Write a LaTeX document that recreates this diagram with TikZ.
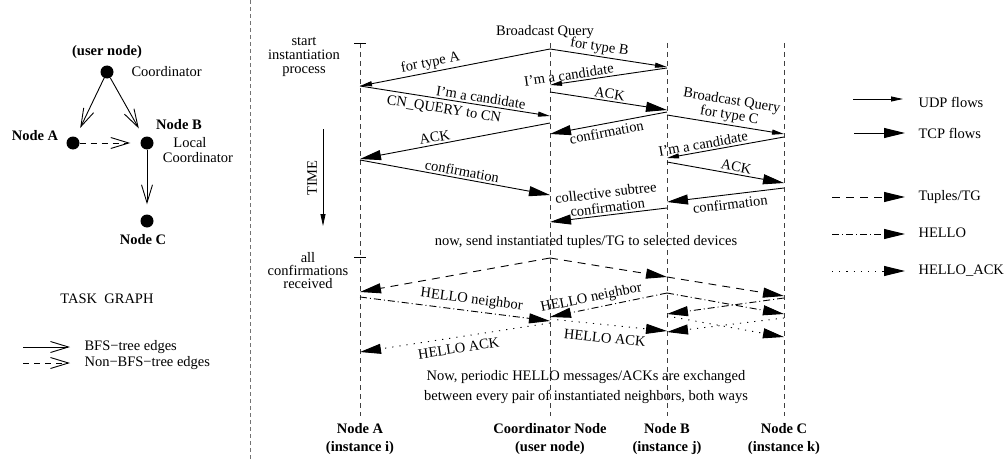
\documentclass[tikz,border=0pt]{standalone}
\usepackage{fontspec}
\setmainfont{Liberation Serif}
\usetikzlibrary{arrows.meta}
\begin{document}
\begin{tikzpicture}[x=1pt,y=-1pt,
  font=\fontsize{14.5}{15}\selectfont,
  life/.style={draw=black!75, line width=0.8pt, dash pattern=on 5pt off 4pt},
  sep/.style={draw=black!55, line width=0.8pt, dash pattern=on 4pt off 3pt},
  msg/.style={line width=0.9pt},
  udp/.style={msg, -{Triangle[length=12pt,width=5pt]}},
  tcp/.style={msg, -{Triangle[length=21pt,width=10pt]}},
  tuples/.style={tcp, dash pattern=on 8pt off 6pt},
  hello/.style={tcp, dash pattern=on 7pt off 3pt on 1pt off 3pt},
  helloack/.style={tcp, dash pattern=on 1.2pt off 6pt},
  lbla/.style={sloped, above, inner sep=2pt},
  lblb/.style={sloped, below, inner sep=4pt},
  dot/.style={circle, fill=black, minimum size=13pt, inner sep=0pt},
  bfs/.style={line width=0.9pt, -{Straight Barb[length=18pt,width=11pt]}},
  nonbfs/.style={bfs, dash pattern=on 6pt off 5pt},
  bold/.style={align=center, font=\fontsize{14.5}{18}\selectfont\bfseries},
]
\useasboundingbox (0,0) rectangle (1006,460);

% ---------- task graph ----------
\node[dot] (gco) at (107,72) {};
\node[dot] (ga)  at (73,143) {};
\node[dot] (gb)  at (147,143) {};
\node[dot] (gc)  at (147,221) {};
\node[bold] (tuser) at (107,52) {(user node)};
\node[anchor=west] (tcoord) at (128,72) {Coordinator};
\node[bold] (tna) at (35,136) {Node A};
\node[bold] (tnb) at (179,125) {Node B};
\node (tlocal) at (190,143) {Local};
\node (tlcoord) at (198,158) {Coordinator};
\node[bold] (tnc) at (143,240) {Node C};
\draw[bfs, shorten >=10pt] (gco) -- (ga);
\draw[bfs, shorten >=10pt] (gco) -- (gb);
\draw[bfs, shorten >=10pt] (gb) -- (gc);
\draw[nonbfs, shorten >=10pt] (ga) -- (gb);
\node (ttask) at (107,299) {TASK\ \ GRAPH};
\coordinate (lg1s) at (23,347); \coordinate (lg1e) at (70,347);
\coordinate (lg2s) at (23,363); \coordinate (lg2e) at (70,363);
\draw[bfs] (lg1s) -- (lg1e);
\draw[nonbfs] (lg2s) -- (lg2e);
\node[anchor=west] (tbfs) at (81,347) {BFS−tree edges};
\node[anchor=west] (tnbfs) at (81,363) {Non−BFS−tree edges};

% ---------- separator ----------
\coordinate (sept) at (250,0); \coordinate (sepb) at (250,460);
\draw[sep] (sept) -- (sepb);

% ---------- lifelines ----------
\coordinate (At) at (360,43);  \coordinate (Ab) at (360,416);
\coordinate (Ct) at (550,43);  \coordinate (Cb) at (550,416);
\coordinate (Bt) at (667,43);  \coordinate (Bb) at (667,416);
\coordinate (Kt) at (784,43);  \coordinate (Kb) at (784,416);
\draw[life] (At) -- (Ab);
\draw[life] (Ct) -- (Cb);
\draw[life] (Bt) -- (Bb);
\draw[life] (Kt) -- (Kb);
\coordinate (tk1l) at (354,43);  \coordinate (tk1r) at (366,43);
\coordinate (tk2l) at (354,257); \coordinate (tk2r) at (366,257);
\draw[line width=0.8pt] (tk1l) -- (tk1r);
\draw[line width=0.8pt] (tk2l) -- (tk2r);

\node[bold] (lA) at (360,439) {Node A\\(instance i)};
\node[bold] (lC) at (550,439) {Coordinator Node\\(user node)};
\node[bold] (lB) at (667,439) {Node B\\(instance j)};
\node[bold] (lK) at (784,439) {Node C\\(instance k)};

% ---------- left annotations ----------
\node[align=center, font=\fontsize{14.5}{14}\selectfont] (tstart) at (304,57) {start\\instantiation\\process};
\node[align=center, font=\fontsize{14.5}{13}\selectfont] (tall) at (308,271) {all\\confirmations\\received};
\node[rotate=90] (ttime) at (312,178) {TIME};
\coordinate (tms) at (323,129); \coordinate (tme) at (323,226);
\draw[udp, line width=0.8pt] (tms) -- (tme);

% ---------- instantiation phase ----------
\coordinate (co1) at (550,49);  \coordinate (a1) at (360,86);  \coordinate (b1) at (667,67);
\node (tbq) at (545,32) {Broadcast Query};
\draw[udp] (co1) -- node[lbla, pos=0.62] {for type A} (a1);
\draw[udp] (co1) -- node[lbla, pos=0.41] {for type B} (b1);

\coordinate (b2) at (667,68);  \coordinate (co2) at (550,85);
\draw[udp] (b2) -- node[lbla, pos=0.83] {I’m a candidate} (co2);

\coordinate (co3) at (550,116);
\draw[udp] (a1) -- node[lbla, pos=0.63] {I’m a candidate}
                   node[lblb, pos=0.45] {CN\_QUERY to CN} (co3);

\coordinate (co4) at (550,92);  \coordinate (b3) at (667,110);
\draw[tcp] (co4) -- node[lbla, pos=0.5] {ACK} (b3);

\coordinate (b4) at (667,112);  \coordinate (co5) at (550,134);
\draw[tcp] (b4) -- node[lblb, inner sep=3pt, pos=0.53] {confirmation} (co5);

\coordinate (b5) at (667,115);  \coordinate (c1) at (784,134);
\draw[udp] (b5) -- node[lbla, pos=0.52, align=center] {Broadcast Query\\for type C} (c1);

\coordinate (c2) at (784,137);  \coordinate (b6) at (667,158);
\draw[udp] (c2) -- node[lbla, pos=0.68] {I’m a candidate} (b6);

\coordinate (b7) at (667,162);  \coordinate (c3) at (784,183);
\draw[tcp] (b7) -- node[lbla, pos=0.58] {ACK} (c3);

\coordinate (c4) at (784,188);  \coordinate (b8) at (667,202);
\draw[tcp] (c4) -- node[lblb, pos=0.47] {confirmation} (b8);

\coordinate (b9) at (667,208);  \coordinate (co6) at (550,222);
\draw[tcp] (b9) -- node[lbla, pos=0.5, align=center] {collective subtree\\confirmation} (co6);

\coordinate (co7) at (550,123); \coordinate (a2) at (360,159);
\draw[tcp] (co7) -- node[lbla, pos=0.6] {ACK} (a2);

\coordinate (a3) at (360,160);  \coordinate (co8) at (550,195);
\draw[tcp] (a3) -- node[lbla, pos=0.53] {confirmation} (co8);

% ---------- deployment phase ----------
\node (tnow) at (586,242) {now, send instantiated tuples/TG to selected devices};

\coordinate (co9) at (550,258); \coordinate (a4) at (360,292);
\coordinate (b10) at (667,277); \coordinate (c5) at (784,296);
\draw[tuples] (co9) -- (a4);
\draw[tuples] (co9) -- (b10);
\draw[tuples] (b10) -- (c5);

\coordinate (a5) at (360,297);  \coordinate (co10) at (550,321);
\coordinate (b11) at (667,293); \coordinate (co11) at (550,317);
\coordinate (c6) at (784,314);  \coordinate (c7) at (784,298); \coordinate (b12) at (667,314);
\draw[hello] (a5) -- node[lbla, inner sep=4pt, pos=0.58] {HELLO neighbor} (co10);
\draw[hello] (b11) -- node[lbla, inner sep=3pt, pos=0.63] {HELLO neighbor} (co11);
\draw[hello] (b11) -- (c6);
\draw[hello] (c7) -- (b12);

\coordinate (co12) at (550,323); \coordinate (a6) at (360,352);
\coordinate (co13) at (550,319); \coordinate (b13) at (667,331);
\coordinate (b14) at (667,316);  \coordinate (c8) at (784,337);
\coordinate (c9) at (784,318);   \coordinate (b15) at (667,332);
\draw[helloack] (co12) -- node[lblb, inner sep=6pt, pos=0.49] {HELLO ACK} (a6);
\draw[helloack] (co13) -- node[lblb, inner sep=8pt, pos=0.48] {HELLO ACK} (b13);
\draw[helloack] (b14) -- (c8);
\draw[helloack] (c9) -- (b15);

\node[align=center, font=\fontsize{14.5}{20}\selectfont] (tper) at (586,387)
  {Now, periodic HELLO messages/ACKs are exchanged\\between every pair of instantiated neighbors, both ways};

% ---------- flow legend ----------
\coordinate (u1) at (853,99);  \coordinate (u2) at (903,99);
\coordinate (t1) at (854,133); \coordinate (t2) at (905,133);
\coordinate (g1) at (832,197); \coordinate (g2) at (905,197);
\coordinate (h1) at (832,234); \coordinate (h2) at (905,234);
\coordinate (k1) at (832,271); \coordinate (k2) at (905,271);
\draw[udp] (u1) -- (u2);
\draw[tcp] (t1) -- (t2);
\draw[tuples] (g1) -- (g2);
\draw[hello] (h1) -- (h2);
\draw[helloack] (k1) -- (k2);
\node[anchor=west] (tudp) at (915,102) {UDP flows};
\node[anchor=west] (ttcp) at (915,133) {TCP flows};
\node[anchor=west] (ttg) at (915,197) {Tuples/TG};
\node[anchor=west] (thello) at (915,233) {HELLO};
\node[anchor=west] (thack) at (915,271) {HELLO\_ACK};
\end{tikzpicture}
\end{document}
